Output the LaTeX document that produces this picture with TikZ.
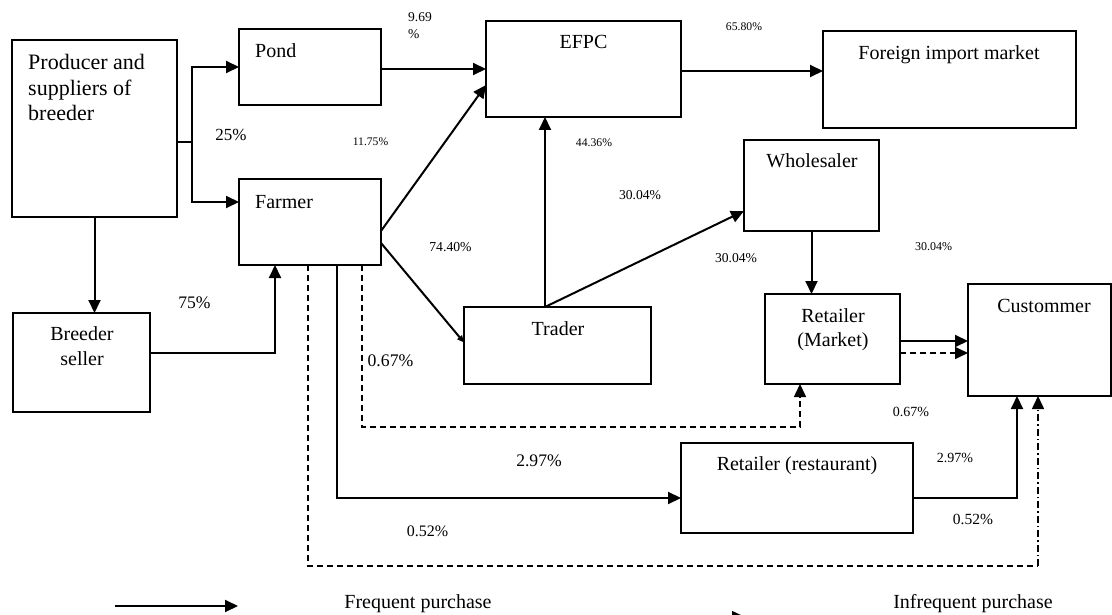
\documentclass[tikz,border=0pt]{standalone}
\usepackage{fontspec}
\setmainfont{Liberation Serif}
\usetikzlibrary{arrows.meta,calc}
\begin{document}
\begin{tikzpicture}[x=1pt,y=-1pt,
  box/.style={draw, line width=1.5pt, inner sep=0pt, outer sep=0pt},
  plain/.style={line width=2pt},
  arr/.style={line width=2pt, -{Triangle[length=13pt,width=12pt]}},
  sarr/.style={line width=2pt, -{Triangle[length=7pt,width=6pt]}},
  dsh/.style={line width=1.6pt, dash pattern=on 6pt off 4pt},
  darr/.style={dsh, -{Triangle[length=13pt,width=12pt]}},
  ddarr/.style={line width=1.6pt, dash pattern=on 7pt off 3pt on 1.5pt off 3pt, -{Triangle[length=13pt,width=12pt]}},
  lbl/.style={inner sep=0pt, anchor=base, font=\fontsize{20}{24}\selectfont},
  pct/.style={inner sep=0pt, anchor=base},
]
\useasboundingbox (0,0) rectangle (1112,615);
\fill[white] (0,0) rectangle (1112,615);
\clip (0,0) rectangle (1112,615);

% boxes
\node[box, minimum width=165pt, minimum height=177pt] (prod) at (94.5,128.5) {};
\node[box, minimum width=142pt, minimum height=76pt] (pond) at (310,67) {};
\node[box, minimum width=142pt, minimum height=86pt] (farmer) at (310,222) {};
\node[box, minimum width=195pt, minimum height=96pt] (efpc) at (583.5,69) {};
\node[box, minimum width=253pt, minimum height=97pt] (foreign) at (949.5,79.5) {};
\node[box, minimum width=135pt, minimum height=91pt] (whole) at (811.5,185.5) {};
\node[box, minimum width=137pt, minimum height=99pt] (breeder) at (81.5,362.5) {};
\node[box, minimum width=187pt, minimum height=77pt] (trader) at (557.5,345.5) {};
\node[box, minimum width=135pt, minimum height=90pt] (retail) at (832.5,339) {};
\node[box, minimum width=143pt, minimum height=112pt] (cust) at (1039.5,340) {};
\node[box, minimum width=232pt, minimum height=90pt] (rest) at (797,488) {};

% box texts
\node[lbl, anchor=north west, align=left, font=\fontsize{22}{25.5}\selectfont] (prodT) at (28,54.5) {Producer and\\suppliers of\\breeder};
\node[lbl, anchor=base west] (pondT) at (255,58) {Pond};
\node[lbl, anchor=base west] (farmT) at (255,208) {Farmer};
\node[lbl] (efpcT) at (583.5,49) {EFPC};
\node[lbl] (forT) at (949,60) {Foreign import market};
\node[lbl] (whT) at (812,168) {Wholesaler};
\node[lbl] (trT) at (558,335) {Trader};
\node[lbl, anchor=north, align=center, font=\fontsize{20}{24}\selectfont] (retT) at (833,308) {Retailer\\(Market)};
\node[lbl] (cuT) at (1044,312) {Custommer};
\node[lbl] (reT) at (797,470) {Retailer (restaurant)};
\node[lbl, anchor=north, align=center, font=\fontsize{20}{25}\selectfont] (brT) at (82,326) {Breeder\\seller};

% connectors
\coordinate (br) at (192,142);
\draw[plain] (br -| prod.east) -- (br);
\draw[arr] (br) |- (pond.west);
\draw[arr] (br) |- ([yshift=20pt]farmer.west);
\draw[arr] (prod.south) -- (prod.south |- breeder.north);
\draw[arr] ([yshift=9.5pt]breeder.east) -| ([xshift=-35pt]farmer.south);
\coordinate (p1) at ([yshift=-2pt]pond.east);
\draw[arr] (p1) -- (p1 -| efpc.west);
\draw[arr] ([yshift=-9pt]farmer.east) -- ([yshift=-16pt]efpc.west);
\draw[sarr] ([yshift=-21pt]farmer.east) -- ([yshift=3pt]trader.west);
\coordinate (e1) at ([yshift=-2pt]efpc.east);
\draw[arr] (e1) -- (e1 -| foreign.west);
\coordinate (tt) at ([xshift=-12.5pt]trader.north);
\draw[arr] (tt) -- (tt |- efpc.south);
\draw[arr] (tt) -- ([yshift=-25.5pt]whole.west);
\draw[arr] (whole.south) -- (whole.south |- retail.north);
\coordinate (r1) at ([yshift=-2pt]retail.east);
\draw[arr] (r1) -- (r1 -| cust.west);
\coordinate (r2) at ([yshift=-14pt]retail.east);
\draw[darr] (r2) -- (r2 -| cust.west);
\draw[darr] ([xshift=52pt]farmer.south) -- ++(0,162) -| ([xshift=-32.5pt]retail.south);
\draw[arr] ([xshift=27pt]farmer.south) |- ([yshift=-10pt]rest.west);
\draw[arr] ([yshift=-10pt]rest.east) -| ([xshift=-22.5pt]cust.south);
\coordinate (dd) at (1038,566);
\draw[dsh] ([xshift=-2pt]farmer.south) |- (dd);
\draw[ddarr] (dd) -- (dd |- cust.south);

% percentages
\node[pct, anchor=north west, align=left, font=\fontsize{13.5}{16.5}\selectfont] (p969) at (408,12.4) {9.69\\\%};
\node[pct, font=\fontsize{17}{20}\selectfont] (p25) at (231,140.6) {25\%};
\node[pct, font=\fontsize{11.6}{14}\selectfont] (p1175) at (370.5,146) {11.75\%};
\node[pct, font=\fontsize{13.7}{16}\selectfont] (p7440) at (450.5,251.5) {74.40\%};
\node[pct, font=\fontsize{11.7}{14}\selectfont] (p6580) at (744,31) {65.80\%};
\node[pct, font=\fontsize{11.7}{14}\selectfont] (p4436) at (594,147) {44.36\%};
\node[pct, font=\fontsize{13.6}{16}\selectfont] (p3004a) at (640,199.5) {30.04\%};
\node[pct, font=\fontsize{13.6}{16}\selectfont] (p3004b) at (736,262.5) {30.04\%};
\node[pct, font=\fontsize{12}{14}\selectfont] (p3004c) at (933.5,250) {30.04\%};
\node[pct, font=\fontsize{17.6}{20}\selectfont] (p75) at (194.5,308) {75\%};
\node[pct, font=\fontsize{17.7}{20}\selectfont] (p067a) at (390.5,366) {0.67\%};
\node[pct, font=\fontsize{17.6}{20}\selectfont] (p297a) at (539,466) {2.97\%};
\node[pct, font=\fontsize{16}{19}\selectfont] (p052a) at (427.5,536.5) {0.52\%};
\node[pct, font=\fontsize{14}{16}\selectfont] (p067b) at (911,416.5) {0.67\%};
\node[pct, font=\fontsize{14}{16}\selectfont] (p297b) at (955,462.5) {2.97\%};
\node[pct, font=\fontsize{15.5}{18}\selectfont] (p052b) at (973,524) {0.52\%};

% legend
\coordinate (la) at (115,606);
\coordinate (lb) at (238,606);
\draw[arr] (la) -- (lb);
\node[lbl] (freqT) at (418,608) {Frequent purchase};
\coordinate (lc) at (650,617);
\coordinate (ld) at (745,617);
\draw[darr] (lc) -- (ld);
\node[lbl] (infT) at (973,608) {Infrequent purchase};
\end{tikzpicture}
\end{document}
